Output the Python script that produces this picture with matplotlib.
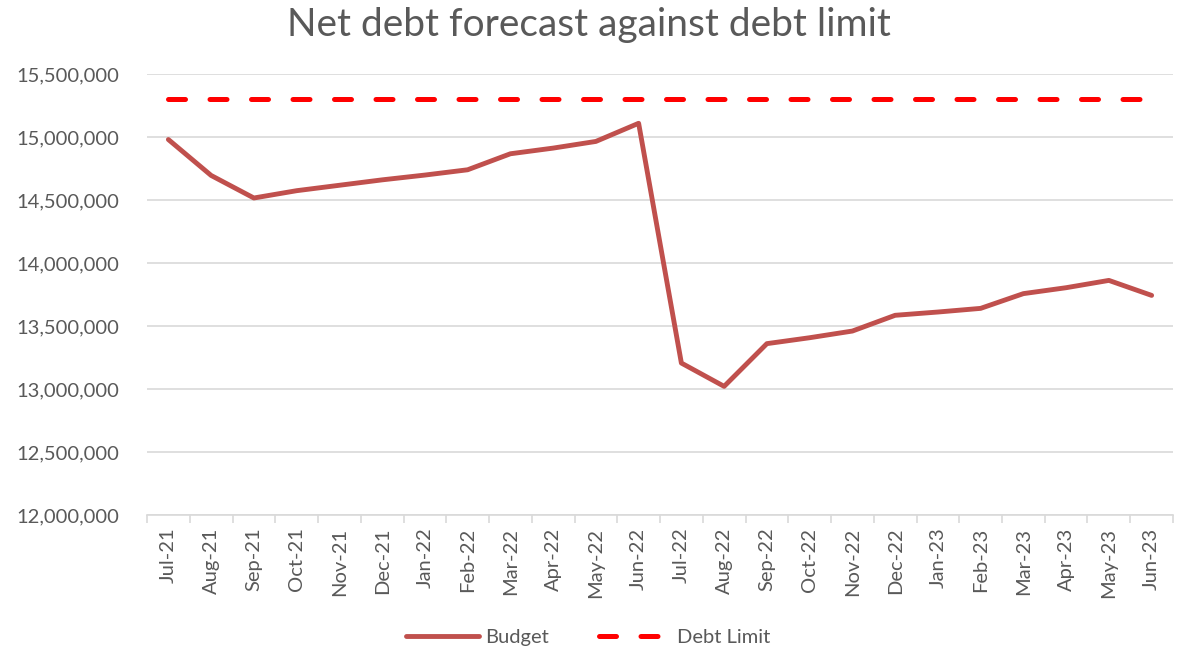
import matplotlib
matplotlib.use("Agg")
import matplotlib.pyplot as plt
from matplotlib.ticker import FuncFormatter, FixedLocator

plt.rcParams['font.family'] = ['Lato', 'DejaVu Sans']

months = ['Jul-21', 'Aug-21', 'Sep-21', 'Oct-21', 'Nov-21', 'Dec-21', 'Jan-22', 'Feb-22',
          'Mar-22', 'Apr-22', 'May-22', 'Jun-22', 'Jul-22', 'Aug-22', 'Sep-22', 'Oct-22',
          'Nov-22', 'Dec-22', 'Jan-23', 'Feb-23', 'Mar-23', 'Apr-23', 'May-23', 'Jun-23']
budget = [14980000, 14695000, 14516000, 14574000, 14617000, 14660000, 14698000, 14740000,
          14867000, 14912000, 14965000, 15109000, 13206000, 13021000, 13360000, 13407000,
          13460000, 13585000, 13611000, 13640000, 13757000, 13804000, 13862000, 13743000]
debt_limit = [15300000] * len(months)

grey = '#595959'
x = list(range(len(months)))

fig = plt.figure(figsize=(11.77, 6.51), dpi=100)
ax = fig.add_axes([0.1249, 0.2089, 0.8717, 0.6774])

ax.plot(x, budget, color='#C0504D', lw=3.5, solid_capstyle='round',
        solid_joinstyle='round', label='Budget', zorder=3)
ax.plot(x, debt_limit, color='#FF0000', lw=3.6, dashes=(3.4, 4.9),
        dash_capstyle='round', label='Debt Limit', zorder=3)

ax.set_xlim(-0.5, len(months) - 0.5)
ax.set_ylim(12000000, 15500000)
ax.set_yticks(range(12000000, 15500001, 500000))
ax.yaxis.set_major_formatter(FuncFormatter(lambda v, p: f'{int(v):,}'))
ax.grid(axis='y', color='#D9D9D9', lw=1.2)
ax.set_axisbelow(True)

ax.set_xticks(x)
ax.set_xticklabels(months, rotation=90)
ax.xaxis.set_minor_locator(FixedLocator([i - 0.5 for i in range(len(months) + 1)]))
ax.tick_params(axis='x', which='major', length=0, pad=9, labelsize=14.5, labelcolor=grey)
ax.tick_params(axis='x', which='minor', length=6, color='#D9D9D9', width=1.2)
ax.tick_params(axis='y', length=0, pad=20, labelsize=14.5, labelcolor=grey)

for s in ['top', 'right', 'left']:
    ax.spines[s].set_visible(False)
ax.spines['bottom'].set_color('#D9D9D9')
ax.spines['bottom'].set_linewidth(1.2)

fig.suptitle('Net debt forecast against debt limit', fontsize=28, color=grey, y=0.99)

fig.legend(loc='lower center', bbox_to_anchor=(0.5, -0.02), ncol=2, frameon=False,
           fontsize=14.5, labelcolor=grey, handlelength=3.6, columnspacing=2.5,
           handletextpad=0.3)

fig.savefig('out.png', dpi=100)
